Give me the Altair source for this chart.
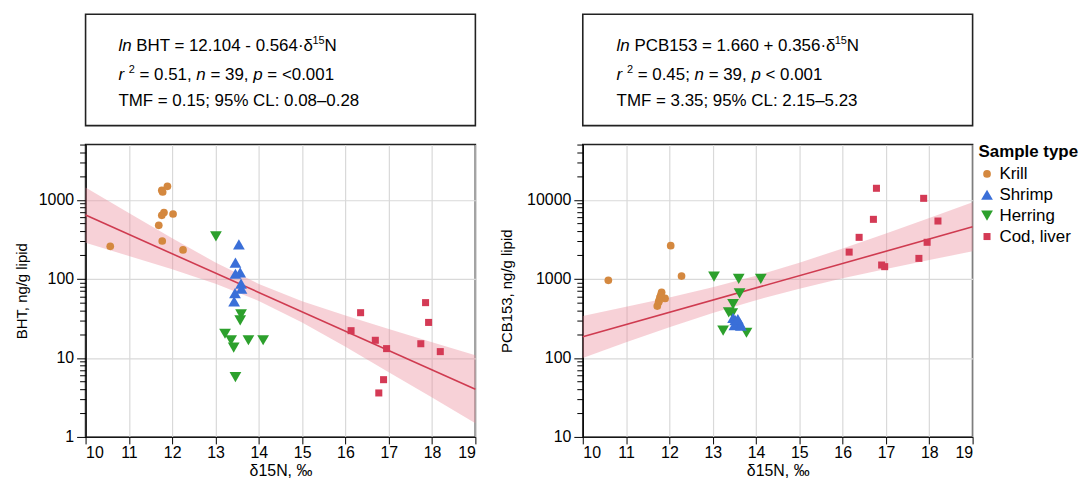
import altair as alt
import pandas as pd

# ---------------- data ----------------
types = ["Krill", "Shrimp", "Herring", "Cod, liver"]
colors = ["#d4883f", "#3a6fd8", "#2ca02c", "#d43a55"]
shapes = ["circle", "triangle-up", "triangle-down", "square"]
sizes = [60, 140, 140, 50]

# BHT panel
krill_x_L = [10.57, 11.76, 11.78, 11.89, 11.81, 11.76, 12.02, 11.69, 11.77, 12.25]
krill_y_L = [258, 1320, 1256, 1482, 689, 637, 661, 476, 301, 232]
shrimp_x_L = [13.54, 13.46, 13.57, 13.46, 13.59, 13.60, 13.45, 13.43]
shrimp_y_L = [273, 160, 121, 116, 87, 75, 66, 52]
herring_x_L = [13.01, 13.59, 13.57, 13.22, 13.36, 13.42, 13.76, 14.10, 13.46]
herring_y_L = [345, 35.5, 29.8, 20.2, 16.7, 13.5, 16.7, 16.7, 5.7]
cod_x_L = [16.13, 16.35, 16.69, 16.95, 16.88, 16.77, 17.85, 17.92, 17.74, 18.19]
cod_y_L = [22.1, 37.3, 16.7, 13.1, 5.3, 3.6, 50, 28.1, 15.1, 12.0]

# PCB153 panel
krill_x_R = [10.59, 12.03, 12.28, 11.82, 11.78, 11.90, 11.75, 11.72, 11.80, 11.76]
krill_y_R = [957, 2630, 1085, 675, 578, 566, 505, 453, 620, 530]
shrimp_x_R = [13.47, 13.52, 13.58, 13.55, 13.62, 13.50, 13.65, 13.58]
shrimp_y_R = [320, 300, 290, 270, 280, 260, 255, 310]
herring_x_R = [13.03, 13.60, 14.11, 13.62, 13.47, 13.37, 13.45, 13.24, 13.78]
herring_y_R = [1066, 1000, 1000, 655, 480, 377, 366, 221, 208]
cod_x_R = [16.78, 17.87, 16.71, 18.20, 16.38, 16.15, 17.95, 17.76, 16.90, 16.97]
cod_y_R = [13990, 10440, 5660, 5390, 3350, 2180, 2900, 1815, 1496, 1426]

# regression lines (end values)
fit_x = [10, 19]
bht_fit = [641, 4.01]
pcb_fit = [185, 4553]

# confidence bands read at each integer of x
band_x = [10, 11, 12, 13, 14, 15, 16, 17, 18, 19]
bht_upper = [1435, 682, 327, 161, 86.1, 52.2, 34.4, 23.2, 15.8, 10.8]
bht_lower = [286, 195, 132, 86.5, 52.6, 28.1, 13.8, 6.6, 3.15, 1.49]
pcb_upper = [340, 443, 582, 785, 1096, 1600, 2421, 3741, 5875, 9290]
pcb_lower = [100, 158, 244, 369, 537, 752, 1014, 1334, 1734, 2228]

x_ticks = [10, 11, 12, 13, 14, 15, 16, 17, 18, 19]
major_L = [1, 10, 100, 1000]
minor_L = [2, 3, 4, 5, 6, 7, 8, 9, 20, 30, 40, 50, 60, 70, 80, 90,
           200, 300, 400, 500, 600, 700, 800, 900, 2000, 3000, 4000, 5000]
major_R = [10, 100, 1000, 10000]
minor_R = [20, 30, 40, 50, 60, 70, 80, 90, 200, 300, 400, 500, 600, 700, 800, 900,
           2000, 3000, 4000, 5000, 6000, 7000, 8000, 9000, 20000, 30000, 40000, 50000]

box_L = [
    [("ln", "i"), (" BHT = 12.104 - 0.564·δ", "n"), ("15", "sup"), ("N", "n")],
    [("r", "i"), (" ", "n"), ("2", "sup"), (" = 0.51, ", "n"), ("n", "i"), (" = 39, ", "n"),
     ("p", "i"), (" = <0.001", "n")],
    [("TMF = 0.15; 95% CL: 0.08–0.28", "n")],
]
box_R = [
    [("ln", "i"), (" PCB153 = 1.660 + 0.356·δ", "n"), ("15", "sup"), ("N", "n")],
    [("r", "i"), (" ", "n"), ("2", "sup"), (" = 0.45; ", "n"), ("n", "i"), (" = 39, ", "n"),
     ("p", "i"), (" < 0.001", "n")],
    [("TMF = 3.35; 95% CL: 2.15–5.23", "n")],
]

FONT = "Liberation Sans"
PW, PH = 392, 294
BOXH = 112

# ---------------- helpers ----------------
WID = {' ': 278, ',': 278, '.': 278, ';': 278, ':': 278, '-': 333, '–': 556, '=': 584,
       '+': 584, '<': 584, '%': 889, '·': 278, 'δ': 556, 'B': 667, 'H': 722, 'T': 611,
       'M': 833, 'F': 611, 'C': 722, 'L': 556, 'P': 667, 'N': 722, 'l': 222, 'n': 556,
       'r': 333, 'p': 556}


def tw(s, fs):
    return sum(WID.get(c, 556) for c in s) * fs / 1000.0


def build_box(lines, x0, baselines, fs=17, sfs=11):
    rows = []
    for segs, base in zip(lines, baselines):
        x = x0
        for txt, st in segs:
            size = sfs if st == "sup" else fs
            lead = len(txt) - len(txt.lstrip(" "))
            core = txt.strip(" ")
            if core:
                rows.append(dict(px=x + lead * WID[" "] * size / 1000.0,
                                 py=base - (7 if st == "sup" else 0),
                                 text=core, fs=size,
                                 style="italic" if st == "i" else "normal"))
            x += tw(txt, size)
    return pd.DataFrame(rows)


def box_chart(lines, x0):
    df = build_box(lines, x0, [37, 66, 92])
    enc = dict(x=alt.X("px:Q", scale=None, axis=None),
               y=alt.Y("py:Q", scale=None, axis=None),
               text="text:N",
               size=alt.Size("fs:Q", scale=None, legend=None))
    normal = alt.Chart(df).mark_text(align="left", baseline="alphabetic", font=FONT,
                                     color="black").encode(**enc).transform_filter(
        "datum.style == 'normal'")
    italic = alt.Chart(df).mark_text(align="left", baseline="alphabetic", font=FONT,
                                     fontStyle="italic", color="black").encode(**enc).transform_filter(
        "datum.style == 'italic'")
    return alt.layer(normal, italic).properties(width=PW, height=BOXH)


def pts_frame(kx, ky, sx, sy, hx, hy, cx, cy):
    return pd.DataFrame({
        "x": kx + hx + sx + cx,
        "y": ky + hy + sy + cy,
        "type": ["Krill"] * len(kx) + ["Herring"] * len(hx) + ["Shrimp"] * len(sx)
                + ["Cod, liver"] * len(cx),
    })


def panel(pts, up, lo, fit, ytitle, ydom, major, minor, show_legend, tpad):
    xsc = alt.Scale(domain=[10, 19], nice=False, zero=False)
    ysc = alt.Scale(type="log", domain=ydom, nice=False)
    xaxis = alt.Axis(values=x_ticks, format="d", title="δ15N, ‰", grid=True,
                     gridColor="#d9d9d9", gridWidth=1.2, tickSize=7, tickColor="black",
                     domainColor="black", labelColor="black", titleColor="black",
                     labelFontSize=16, labelPadding=1, titleFontSize=16,
                     titleFontWeight="normal", titlePadding=2, labelFont=FONT, titleFont=FONT)
    ymajor = alt.Axis(orient="left", values=major, format="d", title=ytitle, grid=True,
                      gridColor="#d9d9d9", gridWidth=1.2, tickSize=9, tickColor="black",
                      domainColor="black", labelColor="black", titleColor="black",
                      labelFontSize=16, labelPadding=3, titleFontSize=15,
                      titleFontWeight="normal", titlePadding=tpad, labelFont=FONT, titleFont=FONT)
    yminor = alt.Axis(orient="left", values=minor, labels=False, title="", grid=False,
                      tickSize=6, tickColor="black", domainColor="black")
    band_df = pd.DataFrame({"x": band_x, "upper": up, "lower": lo})
    fit_df = pd.DataFrame({"x": fit_x, "y": fit})
    band = alt.Chart(band_df).mark_area(color="#ea8c9c", opacity=0.4).encode(
        x=alt.X("x:Q", scale=xsc, axis=xaxis),
        y=alt.Y("upper:Q", scale=ysc, axis=yminor),
        y2="lower:Q")
    line = alt.Chart(fit_df).mark_line(color="#cf3b50", strokeWidth=1.6).encode(
        x=alt.X("x:Q", scale=xsc, axis=xaxis),
        y=alt.Y("y:Q", scale=ysc, axis=None))
    if show_legend:
        leg = alt.Legend(title="Sample type", titleFontSize=17, titleFontWeight="bold",
                         labelFontSize=17, orient="right", offset=6, padding=0,
                         titleFont=FONT, labelFont=FONT, titleColor="black",
                         labelColor="black", rowPadding=3, titlePadding=4)
    else:
        leg = None
    points = alt.Chart(pts).mark_point(filled=True, opacity=1).encode(
        x=alt.X("x:Q", scale=xsc, axis=xaxis),
        y=alt.Y("y:Q", scale=ysc, axis=ymajor),
        color=alt.Color("type:N", scale=alt.Scale(domain=types, range=colors), legend=leg),
        shape=alt.Shape("type:N", scale=alt.Scale(domain=types, range=shapes), legend=leg),
        size=alt.Size("type:N", scale=alt.Scale(type="ordinal", domain=types, range=sizes),
                      legend=leg),
    )
    return alt.layer(band, line, points).resolve_axis(y="independent").properties(
        width=PW, height=PH)


pts_L = pts_frame(krill_x_L, krill_y_L, shrimp_x_L, shrimp_y_L,
                  herring_x_L, herring_y_L, cod_x_L, cod_y_L)
pts_R = pts_frame(krill_x_R, krill_y_R, shrimp_x_R, shrimp_y_R,
                  herring_x_R, herring_y_R, cod_x_R, cod_y_R)

left = alt.vconcat(box_chart(box_L, 33),
                   panel(pts_L, bht_upper, bht_lower, bht_fit, "BHT, ng/g lipid",
                         [1, 5000], major_L, minor_L, False, 9),
                   spacing=16).resolve_scale(color="independent", shape="independent",
                                             size="independent")
right = alt.vconcat(box_chart(box_R, 34),
                    panel(pts_R, pcb_upper, pcb_lower, pcb_fit, "PCB153, ng/g lipid",
                          [10, 50000], major_R, minor_R, True, 12),
                    spacing=16).resolve_scale(color="independent", shape="independent",
                                              size="independent")

chart = alt.hconcat(left, right, spacing=19).resolve_scale(
    color="independent", shape="independent", size="independent"
).properties(
    padding={"left": 5, "top": 4, "right": 0, "bottom": 0}
).configure(font=FONT).configure_view(stroke="#222222", strokeWidth=1.6)

chart.save("out.html", embed_options={"renderer": "svg", "actions": False})
